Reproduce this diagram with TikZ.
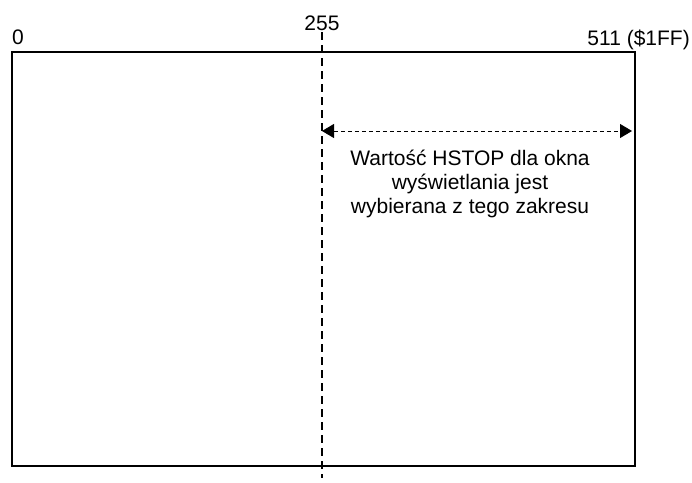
\documentclass[tikz,border=0pt]{standalone}
\usepackage{fontspec}
\setmainfont{Liberation Sans}
\usetikzlibrary{arrows.meta, positioning}

\begin{document}
\begin{tikzpicture}[x=1pt, y=-1pt,
  lbl/.style={font=\fontsize{21}{24}\selectfont, inner sep=0pt},
  note/.style={lbl, align=center},
  frame/.style={draw, line width=1.6pt},
  marker/.style={line width=1.3pt, dash pattern=on 8pt off 5pt},
  span/.style={{Triangle[width=14pt, length=12pt]}-{Triangle[width=14pt, length=12pt]}, line width=0.9pt, dash pattern=on 4pt off 3pt}]
\useasboundingbox (0,0) rectangle (692,482);
% screen frame
\draw[frame] (12,52) rectangle (635,466);
% horizontal positions
\node[lbl, anchor=base west] (zero) at (12,44) {0};
\node[lbl, anchor=base] (mid) at (322,30) {255};
\node[lbl, anchor=base east] (max) at (690,45) {511 (\$1FF)};
\coordinate (midtop) at (322,32);
\coordinate (midbot) at (322,478);
\draw[marker] (midtop) -- (midbot);
% HSTOP range
\coordinate (spanL) at (322,131);
\coordinate (spanR) at (632,131);
\draw[span] (spanL) -- (spanR);
\node[note, anchor=base] (range) at (470,213) {Wartość HSTOP dla okna\\wyświetlania jest\\wybierana z tego zakresu};
\end{tikzpicture}
\end{document}
